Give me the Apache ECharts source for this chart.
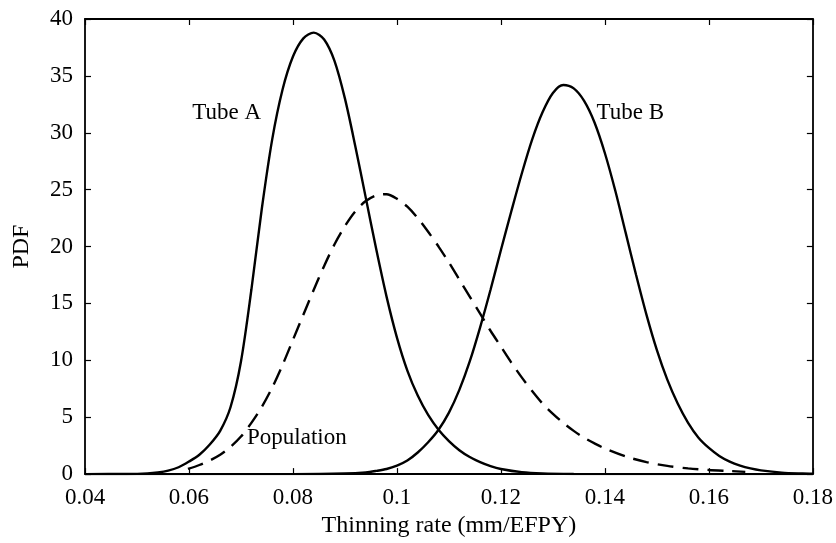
<!DOCTYPE html>
<html><head><meta charset="utf-8">
<script src="https://cdn.jsdelivr.net/npm/echarts@6/dist/echarts.min.js"></script>
<style>html,body{margin:0;padding:0;background:#fff}#c{width:836px;height:543px}</style>
</head><body><div id="c"></div>
<script>
// Thinning rate (mm/EFPY) sample points and PDF values
const tubeAX = [0.040,0.048,0.052,0.054,0.056,0.058,0.060,0.062,0.064,0.066,0.068,0.070,0.072,0.074,0.076,0.078,0.080,0.082,0.084,0.086,0.088,0.090,0.092,0.094,0.096,0.098,0.100,0.102,0.104,0.106,0.108,0.110,0.112,0.114,0.116,0.118,0.120,0.124,0.128,0.134,0.140,0.180];
const tubeAY = [0,0.01,0.06,0.14,0.3,0.6,1.1,1.7,2.6,3.8,5.9,9.9,16.2,23.3,29.4,33.8,36.7,38.3,38.8,38.2,36.3,33.0,28.8,24.3,19.8,15.6,12.0,9.1,6.9,5.2,3.9,2.9,2.1,1.5,1.05,0.7,0.45,0.17,0.06,0.01,0,0];
const tubeBX = [0.040,0.080,0.090,0.094,0.096,0.098,0.100,0.102,0.104,0.106,0.108,0.110,0.112,0.114,0.116,0.118,0.120,0.122,0.124,0.126,0.128,0.130,0.132,0.134,0.136,0.138,0.140,0.142,0.144,0.146,0.148,0.150,0.152,0.154,0.156,0.158,0.160,0.162,0.164,0.166,0.168,0.170,0.174,0.178,0.180];
const tubeBY = [0,0,0.05,0.15,0.28,0.45,0.75,1.2,1.9,2.8,3.9,5.4,7.4,9.9,12.9,16.2,19.7,23.1,26.4,29.4,31.8,33.5,34.2,33.9,32.8,30.9,28.2,24.9,21.2,17.5,14.0,10.9,8.3,6.2,4.5,3.2,2.3,1.6,1.1,0.75,0.5,0.33,0.13,0.05,0.03];
const popX = [0.0598,0.062,0.064,0.066,0.068,0.070,0.072,0.074,0.076,0.078,0.080,0.082,0.084,0.086,0.088,0.090,0.092,0.094,0.096,0.098,0.100,0.102,0.104,0.106,0.108,0.110,0.112,0.114,0.116,0.118,0.120,0.122,0.124,0.126,0.128,0.130,0.132,0.134,0.136,0.138,0.140,0.144,0.148,0.152,0.156,0.160,0.164,0.167];
const popY = [0.45,0.8,1.2,1.7,2.4,3.3,4.5,5.9,7.6,9.6,11.8,14.0,16.2,18.3,20.2,21.8,23.1,24.0,24.5,24.6,24.2,23.5,22.5,21.3,20.0,18.6,17.1,15.6,14.1,12.6,11.2,9.8,8.5,7.3,6.2,5.3,4.5,3.8,3.2,2.7,2.25,1.55,1.05,0.72,0.5,0.36,0.27,0.2];
const xTicks = {min:0.04, max:0.18, interval:0.02};
const yTicks = {min:0, max:40, interval:5};
const xName = 'Thinning rate (mm/EFPY)';
const yName = 'PDF';
const curveLabels = [
  {text:'Tube A', x:0.06065, y:31.88},
  {text:'Tube B', x:0.1384, y:31.88},
  {text:'Population', x:0.07116, y:3.32}
];

const FONT = '"Liberation Serif", "DejaVu Serif", serif';
const pairs = (xs, ys) => xs.map((x,i)=>[x, ys[i]]);
const chart = echarts.init(document.getElementById('c'), null, {renderer:'canvas'});
const tickStyle = {show:true, inside:true, length:6, lineStyle:{color:'#000', width:1.2}};
const baseX = {type:'value', min:xTicks.min, max:xTicks.max, interval:xTicks.interval,
  axisLine:{show:true, onZero:false, lineStyle:{color:'#000', width:1.8}}, axisTick:tickStyle, splitLine:{show:false}};
const baseY = {type:'value', min:yTicks.min, max:yTicks.max, interval:yTicks.interval,
  axisLine:{show:true, onZero:false, lineStyle:{color:'#000', width:1.8}}, axisTick:tickStyle, splitLine:{show:false}};
const line = (name, data, dashed) => ({
  name, type:'line', data, smooth:0.3, symbol:'none', xAxisIndex:0, yAxisIndex:0,
  lineStyle:{color:'#000', width:2.4, type: dashed ? [16,9] : 'solid'}, z: dashed?2:3, animation:false
});
chart.setOption({
  animation:false,
  backgroundColor:'#fff',
  grid:{left:85, right:19, top:19, bottom:66},
  xAxis:[
    Object.assign({}, baseX, {position:'bottom', name:xName, nameLocation:'middle', nameGap:39,
      nameTextStyle:{fontFamily:FONT, fontSize:24, color:'#000'},
      axisLabel:{fontFamily:FONT, fontSize:23, color:'#000', margin:12}}),
    Object.assign({}, baseX, {position:'top', axisLabel:{show:false}})
  ],
  yAxis:[
    Object.assign({}, baseY, {position:'left', name:yName, nameLocation:'middle', nameGap:51,
      nameTextStyle:{fontFamily:FONT, fontSize:24, color:'#000'},
      axisLabel:{fontFamily:FONT, fontSize:23, color:'#000', margin:12}}),
    Object.assign({}, baseY, {position:'right', axisLabel:{show:false}})
  ],
  series:[
    line('Tube A', pairs(tubeAX, tubeAY), false),
    line('Tube B', pairs(tubeBX, tubeBY), false),
    line('Population', pairs(popX, popY), true)
  ]
});
chart.setOption({
  graphic: curveLabels.map(l => {
    const p = chart.convertToPixel({gridIndex:0}, [l.x, l.y]);
    return {type:'text', left:p[0], top:p[1]-10, z:10,
      style:{text:l.text, font:'23px ' + FONT, fill:'#000'}};
  })
});
</script></body></html>
